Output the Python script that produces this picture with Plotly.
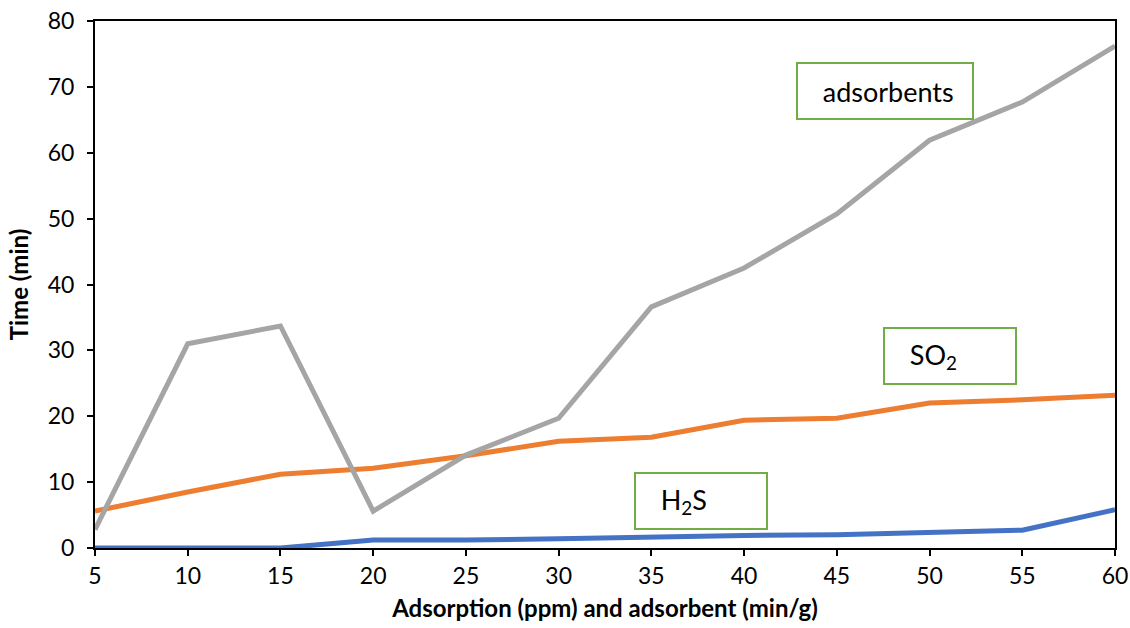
import plotly.graph_objects as go

# Concentration / dose steps on the x axis
dose = [5, 10, 15, 20, 25, 30, 35, 40, 45, 50, 55, 60]

# Breakthrough times (min) for each series
h2s_time = [0, 0, 0, 1.2, 1.2, 1.4, 1.7, 1.9, 2.0, 2.3, 2.7, 5.8]
so2_time = [5.6, 8.5, 11.2, 12.1, 14.0, 16.2, 16.8, 19.4, 19.7, 22.0, 22.5, 23.2]
adsorbent_time = [2.8, 31.0, 33.7, 5.6, 14.1, 19.7, 36.6, 42.5, 50.7, 61.9, 67.7, 76.2]

x_ticks = [5, 10, 15, 20, 25, 30, 35, 40, 45, 50, 55, 60]
y_ticks = [0, 10, 20, 30, 40, 50, 60, 70, 80]

FONT = "Lato"

fig = go.Figure()
fig.add_trace(go.Scatter(x=dose, y=h2s_time, mode="lines", name="H2S",
                         line=dict(color="#4472C4", width=5)))
fig.add_trace(go.Scatter(x=dose, y=so2_time, mode="lines", name="SO2",
                         line=dict(color="#ED7D31", width=5)))
fig.add_trace(go.Scatter(x=dose, y=adsorbent_time, mode="lines", name="adsorbents",
                         line=dict(color="#A5A5A5", width=5)))

# Series label boxes: text, centre x, centre y, box width (px)
labels = [
    ("adsorbents", 47.6, 69.4, 176),
    ("SO<sub>2</sub>", 51.1, 29.1, 132),
    ("H<sub>2</sub>S", 37.7, 7.2, 132),
]
BOX_H = 56
PAD = 4
INDENT = "&nbsp;" * 3
for text, lx, ly, w in labels:
    fig.add_annotation(
        x=lx, y=ly, xref="x", yref="y", text=INDENT + text, showarrow=False,
        width=w - 2 * PAD - 2, height=BOX_H - 2 * PAD - 2,
        align="left", valign="middle", xanchor="center", yanchor="middle",
        bgcolor="white", bordercolor="#70AD47", borderwidth=2, borderpad=PAD,
        font=dict(family=FONT, size=27, color="black"),
    )

fig.update_layout(
    width=1130, height=628,
    margin=dict(l=95, r=15, t=21, b=80),
    paper_bgcolor="white", plot_bgcolor="white",
    showlegend=False,
    font=dict(family=FONT, size=23, color="black"),
)
fig.update_xaxes(
    range=[5, 60], tickvals=x_ticks, ticks="outside", ticklen=6, tickwidth=1.5,
    tickcolor="black", showline=True, linecolor="black", linewidth=2, mirror=True,
    showgrid=False, zeroline=False, automargin=False,
    tickfont=dict(family=FONT, size=23),
    title=dict(text="<b>Adsorption (ppm) and adsorbent (min/g)</b>",
               font=dict(family=FONT, size=24), standoff=13),
)
fig.update_yaxes(
    range=[0, 80], tickvals=y_ticks, ticks="outside", ticklen=6, tickwidth=1.5,
    tickcolor="black", showline=True, linecolor="black", linewidth=2, mirror=True,
    showgrid=False, zeroline=False, automargin=False, ticklabelstandoff=8,
    tickfont=dict(family=FONT, size=23),
    title=dict(text="<b>Time (min)</b>", font=dict(family=FONT, size=24), standoff=12),
)

fig.write_html("out.html")
